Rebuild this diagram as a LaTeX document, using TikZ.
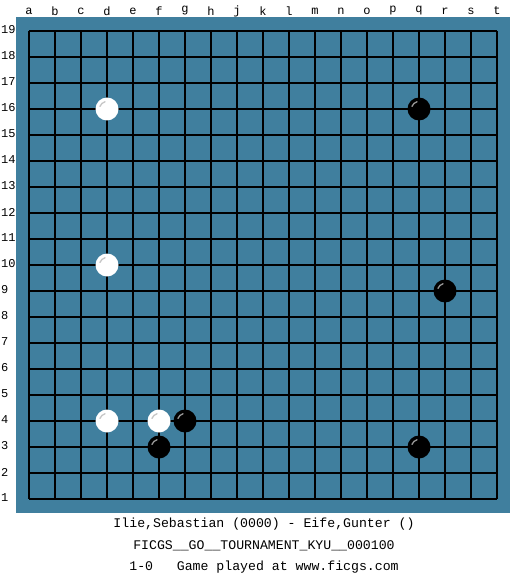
\documentclass[tikz,border=0pt]{standalone}
\usepackage{fontspec}
\setmonofont{Liberation Mono}
\definecolor{board}{RGB}{64,127,158}
\begin{document}
\begin{tikzpicture}[x=1pt,y=-1pt,
  lbl/.style={font=\ttfamily\fontsize{12}{13}\selectfont, inner sep=0pt},
  info/.style={font=\ttfamily\fontsize{13.2}{14}\selectfont, inner sep=0pt},
  gridline/.style={black, line width=1.1pt},
  bstone/.style={circle, fill=black, minimum size=23pt, inner sep=0pt},
  wstone/.style={circle, fill=white, minimum size=23pt, inner sep=0pt},
  bshine/.style={gray!80, line width=1.3pt, line cap=round},
  wshine/.style={gray!45, line width=1.3pt, line cap=round}]
\useasboundingbox (0,0) rectangle (525,575);
\fill[white] (0,0) rectangle (525,575);
\fill[board] (16,17) rectangle (510,513);
% grid
\foreach \i in {0,...,18} {
  \draw[gridline] (29+26*\i,31) -- (29+26*\i,499);
  \draw[gridline] (29,31+26*\i) -- (497,31+26*\i);
}
% column labels
\foreach \l [count=\i from 0] in {a,b,c,d,e,f,g,h,j,k,l,m,n,o,p,q,r,s,t}
  \node[lbl] (col\l) at (29+26*\i,11) {\l};
% row labels
\foreach \r in {1,...,19}
  \node[lbl, anchor=west] (row\r) at (1,31+26*19-26*\r-1) {\r};
% stones
\foreach \c/\r/\n in {3/16/w1, 3/10/w2, 3/4/w3, 5/4/w4} {
  \node[wstone] (\n) at (29+26*\c,31+26*19-26*\r) {};
  \draw[wshine] (\n.center) ++(-160:7.5) arc (-160:-105:7.5);
}
\foreach \c/\r/\n in {15/16/b1, 16/9/b2, 6/4/b3, 5/3/b4, 15/3/b5} {
  \node[bstone] (\n) at (29+26*\c,31+26*19-26*\r) {};
  \draw[bshine] (\n.center) ++(-160:7.5) arc (-160:-105:7.5);
}
% info text
\node[info] (t1) at (264,524) {Ilie,Sebastian (0000) - Eife,Gunter ()};
\node[info] (t2) at (264,546) {FICGS\_\_GO\_\_TOURNAMENT\_KYU\_\_000100};
\node[info] (t3) at (264,567) {1-0\ \ \ Game played at www.ficgs.com};
\end{tikzpicture}
\end{document}
